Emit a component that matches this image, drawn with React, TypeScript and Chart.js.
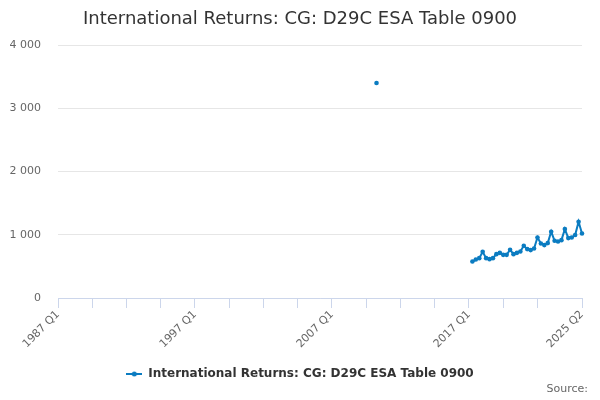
import React, { useEffect, useRef } from 'react';
import { Chart, registerables } from 'chart.js';

Chart.register(...registerables);

// Categories: quarters from 1987 Q1 to 2025 Q2
const firstYear = 1987;
const lastYear = 2025;
const lastQuarter = 2;
const quarterLabels: string[] = [];
for (let y = firstYear; y <= lastYear; y++) {
  for (let q = 1; q <= 4; q++) {
    if (y === lastYear && q > lastQuarter) break;
    quarterLabels.push(`${y} Q${q}`);
  }
}

// Isolated observation
const isolatedQuarters = ['2010 Q2'];
const isolatedValues = [3400];

// Continuous series 2017 Q2 .. 2025 Q2
const seriesStart = '2017 Q2';
const seriesValues = [
  576, 608, 630,
  730, 630, 614, 630,
  693, 714, 682, 682,
  762, 693, 714, 735,
  825, 773, 757, 783,
  957, 862, 836, 868,
  1048, 905, 894, 915,
  1090, 947, 957, 995,
  1206, 1020,
];

// Axis tick labels and tick marks
const labeledTicks = ['1987 Q1', '1997 Q1', '2007 Q1', '2017 Q1', '2025 Q2'];
const tickMarks = [
  '1987 Q1', '1989 Q3', '1992 Q1', '1994 Q3', '1997 Q1', '1999 Q3', '2002 Q1', '2004 Q3',
  '2007 Q1', '2009 Q3', '2012 Q1', '2014 Q3', '2017 Q1', '2019 Q3', '2022 Q1', '2025 Q2',
];
const yTicks = [0, 1000, 2000, 3000, 4000];

const seriesName = 'International Returns: CG: D29C ESA Table 0900';
const titleText = 'International Returns: CG: D29C ESA Table 0900';
const sourceText = 'Source:';

const COLOR = '#0b7cc1';
const FONT = "'DejaVu Sans', sans-serif";

function buildData(): (number | null)[] {
  const data: (number | null)[] = quarterLabels.map(() => null);
  isolatedQuarters.forEach((q, i) => {
    const idx = quarterLabels.indexOf(q);
    if (idx >= 0) data[idx] = isolatedValues[i];
  });
  const s = quarterLabels.indexOf(seriesStart);
  seriesValues.forEach((v, i) => {
    data[s + i] = v;
  });
  return data;
}

function formatThousands(v: number): string {
  return String(v).replace(/\B(?=(\d{3})+(?!\d))/g, ' ');
}

function makeLegendIcon(): HTMLCanvasElement {
  const c = document.createElement('canvas');
  c.width = 16;
  c.height = 6;
  const ctx = c.getContext('2d')!;
  ctx.strokeStyle = COLOR;
  ctx.lineWidth = 2;
  ctx.beginPath();
  ctx.moveTo(0, 3);
  ctx.lineTo(16, 3);
  ctx.stroke();
  ctx.fillStyle = COLOR;
  ctx.beginPath();
  ctx.arc(8, 3, 2.5, 0, Math.PI * 2);
  ctx.fill();
  return c;
}

const sourcePlugin = {
  id: 'sourceText',
  afterDraw(chart: any) {
    const ctx = chart.ctx;
    ctx.save();
    ctx.font = `11px ${FONT}`;
    ctx.fillStyle = '#666666';
    ctx.textAlign = 'right';
    ctx.textBaseline = 'middle';
    ctx.fillText(sourceText, 588, 389);
    ctx.restore();
  },
};

export default function App() {
  const canvasRef = useRef<HTMLCanvasElement | null>(null);

  useEffect(() => {
    document.body.style.margin = '0';
    const canvas = canvasRef.current;
    if (!canvas) return;
    const icon = makeLegendIcon();
    const chart = new Chart(canvas, {
      type: 'line',
      data: {
        labels: quarterLabels,
        datasets: [
          {
            label: seriesName,
            data: buildData(),
            borderColor: COLOR,
            backgroundColor: COLOR,
            borderWidth: 2,
            pointRadius: 2.3,
            pointBorderWidth: 0,
            pointBackgroundColor: COLOR,
            spanGaps: false,
            tension: 0,
          },
        ],
      },
      options: {
        responsive: false,
        animation: false,
        events: [],
        layout: { padding: { left: 0, right: 0, top: 0, bottom: 10 } },
        scales: {
          x: {
            type: 'category',
            offset: false,
            grid: {
              drawOnChartArea: false,
              drawTicks: true,
              tickLength: 10,
              tickColor: (ctx: any) =>
                tickMarks.includes(quarterLabels[ctx.index]) ? '#ccd6eb' : 'rgba(0,0,0,0)',
              color: 'rgba(0,0,0,0)',
            },
            border: { display: true, color: '#ccd6eb', width: 1 },
            ticks: {
              autoSkip: false,
              maxRotation: 45,
              minRotation: 45,
              color: '#666666',
              font: { family: FONT, size: 11 },
              padding: 0,
              callback: (_v: any, idx: number) =>
                labeledTicks.includes(quarterLabels[idx]) ? quarterLabels[idx] : '',
            },
            afterFit: (scale: any) => {
              scale.height = 60;
            },
          },
          y: {
            type: 'linear',
            min: 0,
            max: 4000,
            afterBuildTicks: (scale: any) => {
              scale.ticks = yTicks.map((v) => ({ value: v }));
            },
            grid: { color: '#e6e6e6', drawTicks: false, lineWidth: 1 },
            border: { display: false },
            ticks: {
              color: '#666666',
              font: { family: FONT, size: 11 },
              padding: 17,
              callback: (v: any) => formatThousands(Number(v)),
            },
            afterFit: (scale: any) => {
              scale.width = 58;
            },
          },
          yRight: {
            type: 'linear',
            position: 'right',
            display: true,
            grid: { display: false, drawTicks: false },
            border: { display: false },
            ticks: { display: false },
            afterFit: (scale: any) => {
              scale.width = 18;
            },
          },
        },
        plugins: {
          title: {
            display: true,
            text: titleText,
            color: '#333333',
            font: { family: FONT, size: 18, weight: 'normal' },
            padding: { top: 9, bottom: 14.4 },
          },
          legend: {
            display: true,
            position: 'bottom',
            labels: {
              usePointStyle: true,
              pointStyle: icon as any,
              pointStyleWidth: 16,
              color: '#333333',
              font: { family: FONT, size: 12, weight: 'bold' },
              padding: 10,
            },
          },
          tooltip: { enabled: false },
        },
      } as any,
      plugins: [sourcePlugin],
    });
    return () => chart.destroy();
  }, []);

  return (
    <div style={{ width: 600, height: 400 }}>
      <canvas ref={canvasRef} width={600} height={400} style={{ display: 'block' }} />
    </div>
  );
}
